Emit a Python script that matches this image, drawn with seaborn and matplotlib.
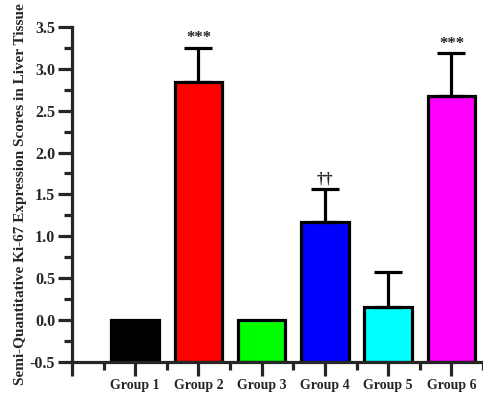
import numpy as np
import matplotlib
matplotlib.use('Agg')
import matplotlib.pyplot as plt
import seaborn as sns

# data
groups = ['Group 1', 'Group 2', 'Group 3', 'Group 4', 'Group 5', 'Group 6']
means = [0.0, 2.84, 0.0, 1.17, 0.16, 2.68]
sem = [0.0, 0.41, 0.0, 0.40, 0.41, 0.51]
marks = ['', '***', '', '\u2020\u2020', '', '***']
colors = ['#000000', '#ff0000', '#00ff00', '#0000ff', '#00ffff', '#ff00ff']

ybase = -0.5

sns.set_style('ticks')
plt.rcParams['font.family'] = ['Liberation Serif', 'DejaVu Serif']
plt.rcParams['font.weight'] = 'bold'

fig = plt.figure(figsize=(4.83, 3.96), dpi=100)
ax = fig.add_axes([0.149, 0.086, 0.851, 0.846])

heights = np.array(means) - ybase
sns.barplot(x=groups, y=heights, hue=groups, palette=colors, legend=False,
            saturation=1, bottom=ybase, width=0.75, edgecolor='black',
            linewidth=2.3, errorbar=None, ax=ax)

# upper error bars only
x = np.arange(len(groups))
err = np.array(sem)
has = err > 0
ax.errorbar(x[has], np.array(means)[has], yerr=[np.zeros(has.sum()), err[has]],
            fmt='none', ecolor='black', elinewidth=2.3, capsize=10, capthick=2.3)

for xi, m, e, s in zip(x, means, sem, marks):
    if s:
        ax.annotate(s, (xi, m + e), xytext=(0, 1), textcoords='offset points',
                    ha='center', va='bottom', fontsize=12, fontweight='bold')

ax.set_xlim(-1, 5.47)
ax.set_ylim(-0.5, 3.5)
ax.set_xticks(np.arange(-1, 6), [''] + groups)
ax.set_xticks(np.arange(-0.5, 5.6, 1.0), minor=True)
ax.set_yticks(np.arange(-0.5, 3.51, 0.5))
ax.set_yticks(np.arange(-0.5, 3.51, 0.25), minor=True)
ax.set_yticklabels([f'{v:.1f}' for v in np.arange(-0.5, 3.51, 0.5)])

ax.tick_params(which='major', direction='out', length=10, width=2.3, pad=2)
ax.tick_params(which='minor', direction='out', length=5.5, width=2.3)
ax.tick_params(axis='x', labelsize=10)
ax.tick_params(axis='y', labelsize=11.5)
for lab in ax.get_xticklabels() + ax.get_yticklabels():
    lab.set_fontweight('bold')

for side in ['top', 'right']:
    ax.spines[side].set_visible(False)
for side in ['left', 'bottom']:
    ax.spines[side].set_linewidth(2.3)

ax.set_xlabel('')
ax.set_ylabel('Semi-Quantitative Ki-67 Expression Scores in Liver Tissue',
              fontsize=11, fontweight='bold', labelpad=2)

fig.savefig('out.png', dpi=100)
